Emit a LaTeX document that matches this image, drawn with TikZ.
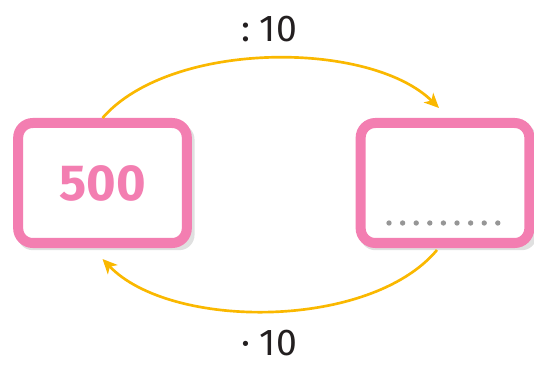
\documentclass[tikz,border=0pt]{standalone}
\usepackage{fontspec}
\setmainfont{Fira Sans}
\usetikzlibrary{arrows.meta,shadows}
\definecolor{boxpink}{RGB}{243,126,177}
\definecolor{arcorange}{RGB}{250,184,0}
\definecolor{dotgray}{RGB}{150,150,150}
\definecolor{textdark}{RGB}{35,31,32}
\tikzset{
  numbox/.style={draw=boxpink, fill=white, line width=7.5pt, rounded corners=11pt,
    minimum width=126.5pt, minimum height=90pt, inner sep=0pt,
    drop shadow={shadow xshift=2.5pt, shadow yshift=-3pt, shadow scale=1.05, fill=black, opacity=0.12}},
  arc/.style={draw=arcorange, line width=2pt, -{Stealth[length=11pt,width=10pt,inset=3pt]}},
  oplabel/.style={text=textdark, inner sep=0pt, text depth=0pt, anchor=base, font=\fontsize{28}{28}\selectfont}
}
\begin{document}
\begin{tikzpicture}[x=0.75pt,y=-0.75pt]
  \useasboundingbox (0,0) rectangle (534,366);
  % boxes
  \node[numbox] (lbox) at (102.5,183) {};
  \node[numbox] (rbox) at (445,183) {};
  \node[text=boxpink, font=\fontsize{38}{38}\selectfont\bfseries] (num) at (lbox.center) {500};
  % empty answer line
  \foreach \i in {0,...,8}
    \fill[dotgray] (389+13.6*\i,223) circle (2pt);
  % operations
  \draw[arc] (lbox.north) .. controls +(68,-78) and +(-69,-68) .. ([shift={(-6,-10)}]rbox.north);
  \draw[arc] ([shift={(-8,2)}]rbox.south) .. controls +(-67,80) and +(68,71) .. ([shift={(0,11)}]lbox.south);
  \node[oplabel] (div) at (269,42) {:\ 10};
  \node[oplabel] (mul) at (269,355) {·\ 10};
\end{tikzpicture}
\end{document}
